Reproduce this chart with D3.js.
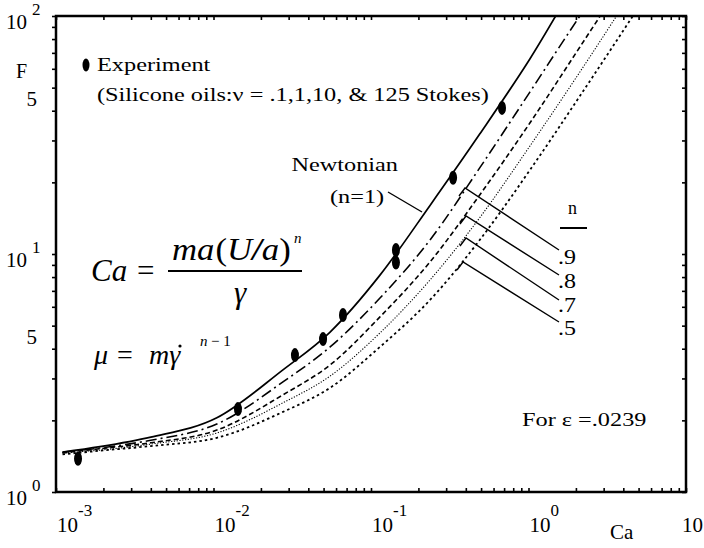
<!DOCTYPE html>
<html><head><meta charset="utf-8">
<script src="https://cdn.jsdelivr.net/npm/d3@7"></script>
<style>
html,body{margin:0;padding:0;background:#fff;}
svg{display:block;}
text{font-family:"Liberation Serif","Times New Roman",Tinos,serif;fill:#000;}
</style></head>
<body>
<svg id="chart" width="704" height="548"></svg>
<script>
// ---- data ----
const caValues = [0.0011, 0.0019, 0.004, 0.0105, 0.0276, 0.055, 0.114, 0.237, 0.49, 1.02, 2.12, 5.1];
const fNewtonian = [1.47, 1.55, 1.70, 2.05, 3.26, 4.70, 8.15, 16.0, 31.9, 66.0, 148, 360];
const fN09 = [1.47, 1.53, 1.65, 1.93, 2.90, 4.07, 6.53, 11.45, 23.0, 47.9, 100, 230];
const fN08 = [1.46, 1.52, 1.61, 1.82, 2.56, 3.42, 5.44, 9.26, 17.7, 35.5, 74.1, 180];
const fN07 = [1.46, 1.50, 1.59, 1.77, 2.37, 3.07, 4.66, 7.78, 14.2, 28.4, 58.2, 142];
const fN05 = [1.44, 1.49, 1.56, 1.69, 2.17, 2.74, 4.07, 6.41, 11.45, 22.5, 46.1, 111];
const seriesNames = ["1", ".9", ".8", ".7", ".5"];
const expCa = [0.00138, 0.0143, 0.0329, 0.0496, 0.0664, 0.144, 0.144, 0.332, 0.679];
const expF  = [1.38, 2.23, 3.76, 4.39, 5.54, 9.2, 10.4, 20.9, 41.1];
const xDecades = [1e-3, 1e-2, 1e-1, 1, 10];
const xExponents = ["-3", "-2", "-1", "0", ""];
const yLabelValues = [1, 5, 10, 50, 100];
const yLabelBase = ["10", "5", "10", "5", "10"];
const yLabelExp = ["0", "", "1", "", "2"];

// ---- layout ----
const svg = d3.select("#chart");
const L = 56, R = 686, T = 16, B = 492;
const x = d3.scaleLog().domain([1e-3, 10]).range([L, R]);
const y = d3.scaleLog().domain([1, 100]).range([B, T]);
const SX = 1.35; // horizontal stretch of the scanned lettering

function txt(px, py, size, str, opt = {}) {
  const t = svg.append("text")
    .attr("transform", `translate(${px},${py}) scale(${opt.sx || 1},1)`)
    .attr("font-size", size).text(str);
  if (opt.anchor) t.attr("text-anchor", opt.anchor);
  if (opt.italic) t.attr("font-style", "italic");
  if (opt.bold) t.attr("font-weight", "bold");
  return t;
}

const minorX = [];
for (let d = -3; d < 1; d++) for (let k = 1; k < 10; k++) minorX.push(k * Math.pow(10, d));
minorX.push(10);
const minorY = [];
for (let d = 0; d < 2; d++) for (let k = 1; k < 10; k++) minorY.push(k * Math.pow(10, d));
minorY.push(100);

svg.append("defs").append("clipPath").attr("id", "plotclip")
  .append("rect").attr("x", L).attr("y", T).attr("width", R - L).attr("height", B - T);

function tickAxis(gen, transform) {
  const g = svg.append("g").attr("transform", transform).call(gen);
  g.select(".domain").remove();
  g.selectAll(".tick line").attr("stroke", "#000").attr("stroke-width", 1.6);
  g.selectAll(".tick text").remove();
  return g;
}
tickAxis(d3.axisBottom(x).tickValues(minorX).tickSize(-4).tickFormat(""), `translate(0,${B})`);
tickAxis(d3.axisTop(x).tickValues(minorX).tickSize(-4).tickFormat(""), `translate(0,${T})`);
tickAxis(d3.axisLeft(y).tickValues(minorY).tickSize(4).tickFormat(""), `translate(${L},0)`);
tickAxis(d3.axisRight(y).tickValues(minorY).tickSize(-4).tickFormat(""), `translate(${R},0)`);

// curves
const line = d3.line().x(d => x(d[0])).y(d => y(d[1])).curve(d3.curveMonotoneX);
const allSeries = [fNewtonian, fN09, fN08, fN07, fN05];
const styles = [
  {dash: null, w: 1.7},
  {dash: "11,4,2,4", w: 1.6},
  {dash: "5,3", w: 1.6},
  {dash: "1.2,1.6", w: 1.1},
  {dash: "2.5,3", w: 1.8}
];
const pg = svg.append("g").attr("clip-path", "url(#plotclip)");
allSeries.forEach((s, i) => {
  pg.append("path")
    .datum(caValues.map((c, j) => [c, s[j]]))
    .attr("d", line)
    .attr("fill", "none")
    .attr("stroke", "#000")
    .attr("stroke-width", styles[i].w)
    .attr("stroke-dasharray", styles[i].dash);
});

// experiment points
pg.selectAll("ellipse.exp").data(expCa.map((c, i) => [c, expF[i]])).enter()
  .append("ellipse").attr("class", "exp")
  .attr("cx", d => x(d[0])).attr("cy", d => y(d[1]))
  .attr("rx", 4).attr("ry", 7).attr("fill", "#000");

// frame
svg.append("rect").attr("x", L).attr("y", T).attr("width", R - L).attr("height", B - T)
  .attr("fill", "none").attr("stroke", "#000").attr("stroke-width", 2.5);

// x tick labels
xDecades.forEach((v, i) => {
  const px = x(v);
  if (xExponents[i]) {
    txt(px + 1, 532, 21, "10");
    txt(px + 22, 516, 17, xExponents[i]);
  } else {
    txt(703, 532, 21, "10", {anchor: "end"});
  }
});
txt(610, 539, 21, "Ca");

// y tick labels
yLabelValues.forEach((v, i) => {
  const py = y(v);
  if (yLabelExp[i]) {
    txt(27, py + 13, 21, yLabelBase[i], {anchor: "end"});
    txt(32, py - 1, 17, yLabelExp[i]);
  } else {
    txt(37, py + 18, 21, yLabelBase[i], {anchor: "end"});
  }
});
txt(16, 78, 20, "F");

// legend
svg.append("ellipse").attr("cx", 86).attr("cy", 65).attr("rx", 3.5).attr("ry", 6.5).attr("fill", "#000");
txt(97, 71, 18, "Experiment", {sx: SX});
txt(97, 101, 18, "(Silicone oils:\u03bd = .1,1,10, & 125 Stokes)", {sx: SX});

// equations
txt(91, 281, 31, "Ca", {italic: true});
txt(137, 281, 31, "=");
const num = svg.append("text").attr("transform", "translate(172,260) scale(1.12,1)")
  .attr("font-size", 31).attr("font-style", "italic");
num.append("tspan").text("ma");
num.append("tspan").attr("font-style", "normal").attr("dx", 1).text("(");
num.append("tspan").text("U");
num.append("tspan").attr("font-weight", "bold").text("/");
num.append("tspan").text("a");
num.append("tspan").attr("font-style", "normal").text(")");
txt(294, 243, 15, "n", {italic: true});
svg.append("line").attr("x1", 168).attr("x2", 302).attr("y1", 271).attr("y2", 271).attr("stroke", "#000").attr("stroke-width", 2.2);
txt(234, 303, 31, "\u03b3", {italic: true});
txt(94, 364, 28, "\u03bc", {italic: true});
txt(117, 364, 28, "=");
txt(149, 364, 28, "m\u03b3", {italic: true});
svg.append("circle").attr("cx", 180).attr("cy", 346).attr("r", 1.6).attr("fill", "#000"); // dot of gamma-dot
txt(200, 346, 15, "n", {italic: true});
txt(211, 346, 15, "\u2212 1");

// Newtonian annotation
txt(398, 171, 18, "Newtonian", {sx: SX, anchor: "end"});
txt(330, 203, 18, "(n=1)", {sx: SX});
svg.append("line").attr("x1", 388).attr("y1", 192).attr("x2", 422).attr("y2", 212).attr("stroke", "#000").attr("stroke-width", 1.4);

// n legend with leader lines
txt(568, 214, 18, "n");
svg.append("line").attr("x1", 560).attr("x2", 587).attr("y1", 228).attr("y2", 228).attr("stroke", "#000").attr("stroke-width", 2);
const leaderCorner = [[465, 188], [466, 216], [466, 238], [463, 262]];
const labelY = [264, 288, 312, 335];
const leaderEnd = [250, 275, 300, 322];
seriesNames.slice(1).forEach((nm, i) => {
  const c = leaderCorner[i];
  svg.append("polyline")
    .attr("points", `${c[0]-6},${c[1]+8} ${c[0]},${c[1]} 559,${leaderEnd[i]}`)
    .attr("fill", "none").attr("stroke", "#000").attr("stroke-width", 1.4);
  txt(558, labelY[i], 20, nm, {sx: 1.2});
});

txt(522, 426, 18, "For \u03b5 =.0239", {sx: SX});
</script>
</body></html>
